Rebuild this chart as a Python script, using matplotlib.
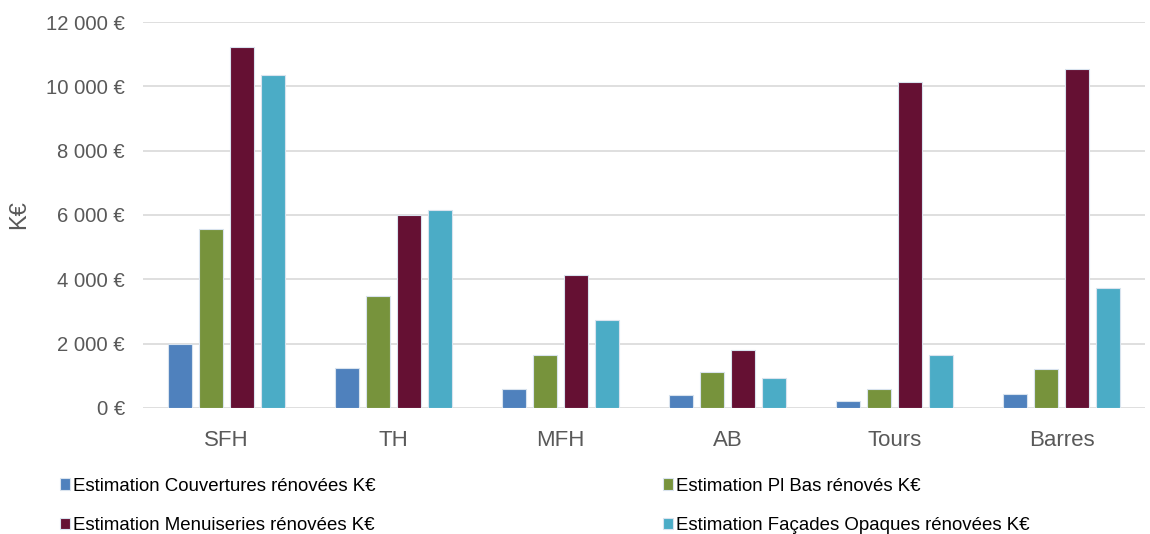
import matplotlib as mpl
import matplotlib.pyplot as plt
import numpy as np
from matplotlib.ticker import FuncFormatter

mpl.rcParams.update({
    "font.family": ["Liberation Sans", "DejaVu Sans"],
})

categories = ["SFH", "TH", "MFH", "AB", "Tours", "Barres"]
series_names = [
    "Estimation Couvertures rénovées K€",
    "Estimation Pl Bas rénovés K€",
    "Estimation Menuiseries rénovées K€",
    "Estimation Façades Opaques rénovées K€",
]
couvertures = [2000, 1240, 590, 400, 220, 430]
pl_bas = [5560, 3480, 1650, 1120, 590, 1210]
menuiseries = [11220, 6000, 4130, 1800, 10130, 10540]
facades = [10350, 6150, 2730, 930, 1640, 3730]
colors = ["#4F81BD", "#77933C", "#651033", "#4BACC6"]

fig = plt.figure(figsize=(11.5, 5.34), dpi=100)
ax = fig.add_axes([0.1243, 0.236, 0.8714, 0.7228])

x = np.arange(len(categories))
step = 0.186
width = 0.146
bars = []
for i, (vals, c) in enumerate(zip([couvertures, pl_bas, menuiseries, facades], colors)):
    b = ax.bar(x + (i - 1.5) * step, vals, width, color=c, edgecolor="#d9e3ee",
               linewidth=0.8, zorder=3, label=series_names[i])
    bars.append(b)

ax.set_xlim(-0.5, len(categories) - 0.5)
ax.set_ylim(0, 12000)
ax.set_yticks(range(0, 12001, 2000))
ax.yaxis.set_major_formatter(FuncFormatter(
    lambda v, p: "0 €" if v == 0 else f"{int(v):,} €".replace(",", " ")))
ax.set_xticks(x)
ax.set_xticklabels(categories)
ax.grid(axis="y", color="#d9d9d9", lw=1.2, zorder=0)
for s in ["top", "right", "left", "bottom"]:
    ax.spines[s].set_visible(False)
ax.tick_params(axis="y", length=0, labelsize=14.6, colors="#595959", pad=13)
ax.tick_params(axis="x", length=0, labelsize=16, colors="#595959", pad=16)
ax.set_ylabel("K€", fontsize=17, color="#595959")
ax.yaxis.set_label_coords(-0.1128, 0.5)

order = [0, 2, 1, 3]
fig.legend([bars[i] for i in order], [series_names[i] for i in order],
           ncol=2, loc="upper left", bbox_to_anchor=(0.0374, 0.137),
           frameon=False, fontsize=13.4, handlelength=0.55, handleheight=0.55,
           handletextpad=0.15, columnspacing=15.45, labelspacing=1.2)

fig.savefig("out.png", dpi=100)
